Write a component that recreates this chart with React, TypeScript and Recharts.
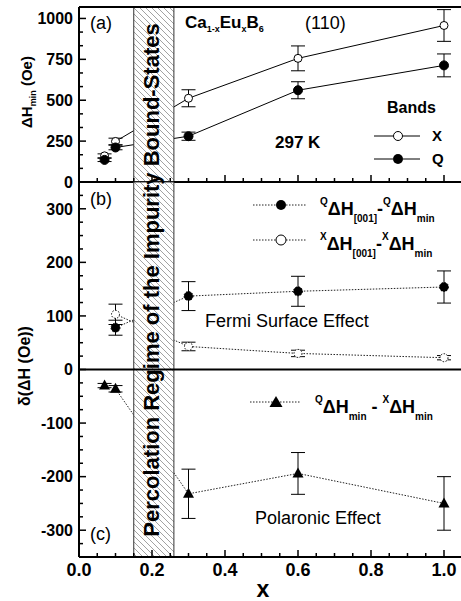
import React from 'react';
import { ComposedChart, Line, XAxis, YAxis, ErrorBar, ReferenceArea, ReferenceLine } from 'recharts';

const FONT = '"Liberation Sans", Arial, Helvetica, sans-serif';

// Eu concentration x
const xConc = [0.07, 0.1, 0.3, 0.6, 1.0];
// panel (a): ΔHmin (Oe) for X and Q bands
const xBandMin = [160, 248, 512, 756, 957];
const xBandErr = [12, 20, 52, 76, 97];
const qBandMin = [135, 211, 280, 561, 713];
const qBandErr = [10, 14, 25, 52, 70];
// panel (b): Fermi surface effect
const diffConc = [0.1, 0.3, 0.6, 1.0];
const qFermi = [78, 137, 146, 154];
const qFermiErr = [14, 27, 28, 30];
const xFermi = [103, 43, 30, 22];
const xFermiErr = [19, 8, 6, 4];
// panel (c): polaronic effect
const polaronic = [-30, -36, -232, -194, -250];
const polaronicErr = [4, 6, 46, 39, 50];

// percolation band
const bandRange = [0.15, 0.26];

// axes
const xDomain = [0, 1.05];
const xMajorTicks = [0, 0.2, 0.4, 0.6, 0.8, 1.0];
const xTickLabels = ['0.0', '0.2', '0.4', '0.6', '0.8', '1.0'];
const xMinorTicks = [0.05, 0.1, 0.15, 0.25, 0.3, 0.35, 0.45, 0.5, 0.55, 0.65, 0.7, 0.75, 0.85, 0.9, 0.95];
const yTopDomain = [0, 1070];
const yTopMajorTicks = [0, 250, 500, 750, 1000];
const yTopTickLabels = ['0', '250', '500', '750', '1000'];
const yTopMinorTicks = [83.3, 166.7, 333.3, 416.7, 583.3, 666.7, 833.3, 916.7];
const yBotDomain = [-350, 350];
const yBotMajorTicks = [-300, -200, -100, 0, 100, 200, 300];
const yBotTickLabels = ['-300', '-200', '-100', '0', '100', '200', '300'];
const yBotMinorTicks = [-325, -275, -250, -225, -175, -150, -125, -75, -50, -25, 25, 50, 75, 125, 150, 175, 225, 250, 275, 325];

type Pt = { x: number; y: number; e: number };
const pts = (xs: number[], ys: number[], es: number[]): Pt[] => xs.map((x, i) => ({ x, y: ys[i], e: es[i] }));

const xBandPts = pts(xConc, xBandMin, xBandErr);
const qBandPts = pts(xConc, qBandMin, qBandErr);
const qFermiPts = pts(diffConc, qFermi, qFermiErr);
const xFermiPts = pts(diffConc, xFermi, xFermiErr);
const polPts = pts(xConc, polaronic, polaronicErr);

const CW = 480;
const CH = 601;
const plotRight = 462.25;
const plotLeft = 79;

const near = (arr: number[], v: number) => arr.findIndex((t) => Math.abs(t - v) < 1e-6);

const makeXTick = (showLabel: boolean) => (props: any) => {
  const { x, y, payload } = props;
  const idx = near(xMajorTicks, payload.value);
  const major = idx >= 0;
  return (
    <g>
      <line x1={x} x2={x} y1={y} y2={y - (major ? 7 : 4)} stroke="#000" strokeWidth={1.5} />
      {major && showLabel && (
        <text x={x} y={y + 19} textAnchor="middle" fontFamily={FONT} fontWeight="bold" fontSize={18} fill="#000">
          {xTickLabels[idx]}
        </text>
      )}
    </g>
  );
};

const makeYTick = (majors: number[], labels: string[]) => (props: any) => {
  const { x, y, payload } = props;
  const idx = near(majors, payload.value);
  const major = idx >= 0;
  return (
    <g>
      <line x1={x} x2={x + (major ? 7 : 4)} y1={y} y2={y} stroke="#000" strokeWidth={1.5} />
      {major && (
        <text x={x - 6} y={y} dy="0.36em" textAnchor="end" fontFamily={FONT} fontWeight="bold" fontSize={16} fill="#000">
          {labels[idx]}
        </text>
      )}
    </g>
  );
};

const triangleDot = (props: any) => {
  const { cx, cy, index } = props;
  if (cx == null || cy == null) return <g key={`t-${index}`} />;
  return <path key={`t-${index}`} d={`M${cx},${cy - 6} L${cx + 5.5},${cy + 4} L${cx - 5.5},${cy + 4} Z`} fill="#000" />;
};

const openDot = { r: 4, fill: '#fff', stroke: '#000', strokeWidth: 1 };
const filledDot = { r: 4.5, fill: '#000', stroke: '#000', strokeWidth: 1 };
const dotted = { stroke: '#222', strokeWidth: 1, strokeDasharray: '1.5 1.5' };

const allXTicks = [...xMajorTicks, ...xMinorTicks].sort((a, b) => a - b);

export default function App() {
  return (
    <div style={{ position: 'absolute', left: 0, top: 0, width: 461, height: 601, overflow: 'hidden', background: '#fff' }}>
      {/* Top panel (a) */}
      <div style={{ position: 'absolute', left: 0, top: 0 }}>
        <ComposedChart width={CW} height={CH} margin={{ top: 7, right: CW - plotRight, bottom: CH - 182 - 1, left: plotLeft - 1 }}>
          <Line data={xBandPts.slice(1)} dataKey="y" type="linear" stroke="#000" strokeWidth={1} dot={openDot} activeDot={false} isAnimationActive={false}>
            <ErrorBar dataKey="e" width={7} stroke="#000" strokeWidth={1} direction="y" />
          </Line>
          <Line data={xBandPts.slice(0, 1)} dataKey="y" type="linear" stroke="#000" strokeWidth={1} dot={openDot} activeDot={false} isAnimationActive={false}>
            <ErrorBar dataKey="e" width={7} stroke="#000" strokeWidth={1} direction="y" />
          </Line>
          <Line data={qBandPts.slice(1)} dataKey="y" type="linear" stroke="#000" strokeWidth={1} dot={filledDot} activeDot={false} isAnimationActive={false}>
            <ErrorBar dataKey="e" width={7} stroke="#000" strokeWidth={1} direction="y" />
          </Line>
          <Line data={qBandPts.slice(0, 1)} dataKey="y" type="linear" stroke="#000" strokeWidth={1} dot={filledDot} activeDot={false} isAnimationActive={false}>
            <ErrorBar dataKey="e" width={7} stroke="#000" strokeWidth={1} direction="y" />
          </Line>
          <ReferenceArea x1={bandRange[0]} x2={bandRange[1]} fill="url(#hatch)" fillOpacity={1} stroke="#333" strokeWidth={1} zIndex={450} />
          <ReferenceLine y={yTopDomain[1]} stroke="#000" strokeWidth={2} zIndex={460} />
          <XAxis type="number" dataKey="x" domain={xDomain} allowDataOverflow ticks={allXTicks} interval={0} height={1} tickSize={0} tickMargin={0} tickLine={false} tick={makeXTick(false)} axisLine={{ stroke: '#000', strokeWidth: 2 }} />
          <YAxis type="number" domain={yTopDomain} allowDataOverflow ticks={[...yTopMajorTicks, ...yTopMinorTicks]} interval={0} width={1} tickSize={0} tickMargin={0} tickLine={false} tick={makeYTick(yTopMajorTicks, yTopTickLabels)} axisLine={{ stroke: '#000', strokeWidth: 2 }} />
        </ComposedChart>
      </div>
      {/* Bottom panel (b)/(c) */}
      <div style={{ position: 'absolute', left: 0, top: 0 }}>
        <ComposedChart width={CW} height={CH} margin={{ top: 182, right: CW - plotRight, bottom: CH - 557 - 1, left: plotLeft - 1 }}>
          <Line data={qFermiPts} dataKey="y" type="linear" {...dotted} dot={filledDot} activeDot={false} isAnimationActive={false}>
            <ErrorBar dataKey="e" width={7} stroke="#000" strokeWidth={1} direction="y" />
          </Line>
          <Line data={xFermiPts} dataKey="y" type="linear" {...dotted} dot={openDot} activeDot={false} isAnimationActive={false}>
            <ErrorBar dataKey="e" width={7} stroke="#000" strokeWidth={1} direction="y" />
          </Line>
          <Line data={polPts.slice(1)} dataKey="y" type="linear" {...dotted} dot={triangleDot} activeDot={false} isAnimationActive={false}>
            <ErrorBar dataKey="e" width={7} stroke="#000" strokeWidth={1} direction="y" />
          </Line>
          <Line data={polPts.slice(0, 1)} dataKey="y" type="linear" {...dotted} dot={triangleDot} activeDot={false} isAnimationActive={false}>
            <ErrorBar dataKey="e" width={7} stroke="#000" strokeWidth={1} direction="y" />
          </Line>
          <ReferenceArea x1={bandRange[0]} x2={bandRange[1]} fill="url(#hatch)" fillOpacity={1} stroke="#333" strokeWidth={1} zIndex={450} />
          <ReferenceLine y={0} stroke="#000" strokeWidth={2} zIndex={460} />
          <XAxis type="number" dataKey="x" domain={xDomain} allowDataOverflow ticks={allXTicks} interval={0} height={1} tickSize={0} tickMargin={0} tickLine={false} tick={makeXTick(true)} axisLine={{ stroke: '#000', strokeWidth: 2 }} />
          <YAxis type="number" domain={yBotDomain} allowDataOverflow ticks={[...yBotMajorTicks, ...yBotMinorTicks]} interval={0} width={1} tickSize={0} tickMargin={0} tickLine={false} tick={makeYTick(yBotMajorTicks, yBotTickLabels)} axisLine={{ stroke: '#000', strokeWidth: 2 }} />
        </ComposedChart>
      </div>
      {/* Annotations */}
      <svg width={461} height={601} style={{ position: 'absolute', left: 0, top: 0, pointerEvents: 'none' }} fontFamily={FONT}>
        <defs>
          <pattern id="hatch" patternUnits="userSpaceOnUse" width={6} height={6}>
            <rect width={6} height={6} fill="#fff" />
            <path d="M0,0 L6,6 M-3,3 L3,9 M3,-3 L9,3" stroke="#8a8a8a" strokeWidth={0.8} />
          </pattern>
        </defs>
        <text x={90} y={29} fontSize={18}>(a)</text>
        <text x={185} y={28} fontSize={17} fontWeight="bold">
          Ca<tspan fontSize={9} dy={4}>1-x</tspan><tspan dy={-4}>Eu</tspan><tspan fontSize={9} dy={4}>x</tspan><tspan dy={-4}>B</tspan><tspan fontSize={9} dy={4}>6</tspan>
        </text>
        <text x={305} y={29} fontSize={18}>(110)</text>
        <text x={387} y={113} fontSize={16} fontWeight="bold">Bands</text>
        <text x={275} y={148} fontSize={17} fontWeight="bold">297 K</text>
        <line x1={374} x2={393} y1={136} y2={136} stroke="#000" strokeWidth={1} />
        <line x1={403} x2={420} y1={136} y2={136} stroke="#000" strokeWidth={1} />
        <circle cx={398} cy={136} r={4.5} fill="#fff" stroke="#000" strokeWidth={1} />
        <text x={432} y={141} fontSize={15} fontWeight="bold">X</text>
        <line x1={374} x2={393} y1={159} y2={159} stroke="#000" strokeWidth={1} />
        <line x1={403} x2={420} y1={159} y2={159} stroke="#000" strokeWidth={1} />
        <circle cx={398} cy={159} r={5} fill="#000" />
        <text x={432} y={164} fontSize={15} fontWeight="bold">Q</text>

        <text x={90} y={205} fontSize={18}>(b)</text>
        <line x1={253} x2={307} y1={205} y2={205} stroke="#222" strokeWidth={1} strokeDasharray="1.5 1.5" />
        <circle cx={281} cy={205} r={5} fill="#000" />
        <text x={320} y={215} fontSize={18} fontWeight="bold">
          <tspan fontSize={10} dy={-10}>Q</tspan><tspan dy={10}>ΔH</tspan><tspan fontSize={10} dy={7}>[001]</tspan><tspan dy={-7}>-</tspan><tspan fontSize={10} dy={-10}>Q</tspan><tspan dy={10}>ΔH</tspan><tspan fontSize={10} dy={7}>min</tspan>
        </text>
        <line x1={253} x2={307} y1={240} y2={240} stroke="#222" strokeWidth={1} strokeDasharray="1.5 1.5" />
        <circle cx={281} cy={240} r={5} fill="#fff" stroke="#000" strokeWidth={1} />
        <text x={320} y={250} fontSize={18} fontWeight="bold">
          <tspan fontSize={10} dy={-10}>X</tspan><tspan dy={10}>ΔH</tspan><tspan fontSize={10} dy={7}>[001]</tspan><tspan dy={-7}>-</tspan><tspan fontSize={10} dy={-10}>X</tspan><tspan dy={10}>ΔH</tspan><tspan fontSize={10} dy={7}>min</tspan>
        </text>
        <text x={205} y={327} fontSize={18}>Fermi Surface Effect</text>

        <line x1={250} x2={300} y1={402} y2={402} stroke="#222" strokeWidth={1} strokeDasharray="1.5 1.5" />
        <path d="M276,396 L282.5,407 L269.5,407 Z" fill="#000" />
        <text x={315} y={413} fontSize={18} fontWeight="bold">
          <tspan fontSize={10} dy={-10}>Q</tspan><tspan dy={10}>ΔH</tspan><tspan fontSize={10} dy={7}>min</tspan><tspan dy={-7}>{' - '}</tspan><tspan fontSize={10} dy={-10}>X</tspan><tspan dy={10}>ΔH</tspan><tspan fontSize={10} dy={7}>min</tspan>
        </text>
        <text x={255} y={524} fontSize={18}>Polaronic Effect</text>
        <text x={90} y={540} fontSize={18}>(c)</text>

        <text transform="translate(159,280) rotate(-90)" textAnchor="middle" fontSize={22} fontWeight="bold">
          Percolation Regime of the Impurity Bound-States
        </text>

        <text transform="translate(32,92) rotate(-90)" textAnchor="middle" fontSize={15} fontWeight="bold">
          ΔH<tspan fontSize={9} dy={4}>min</tspan><tspan dy={-4}> (Oe)</tspan>
        </text>
        <text transform="translate(30,366) rotate(-90)" textAnchor="middle" fontSize={16} fontWeight="bold">
          δ(ΔH (Oe))
        </text>
        <text x={263} y={597} textAnchor="middle" fontSize={23} fontWeight="bold">x</text>
      </svg>
    </div>
  );
}
